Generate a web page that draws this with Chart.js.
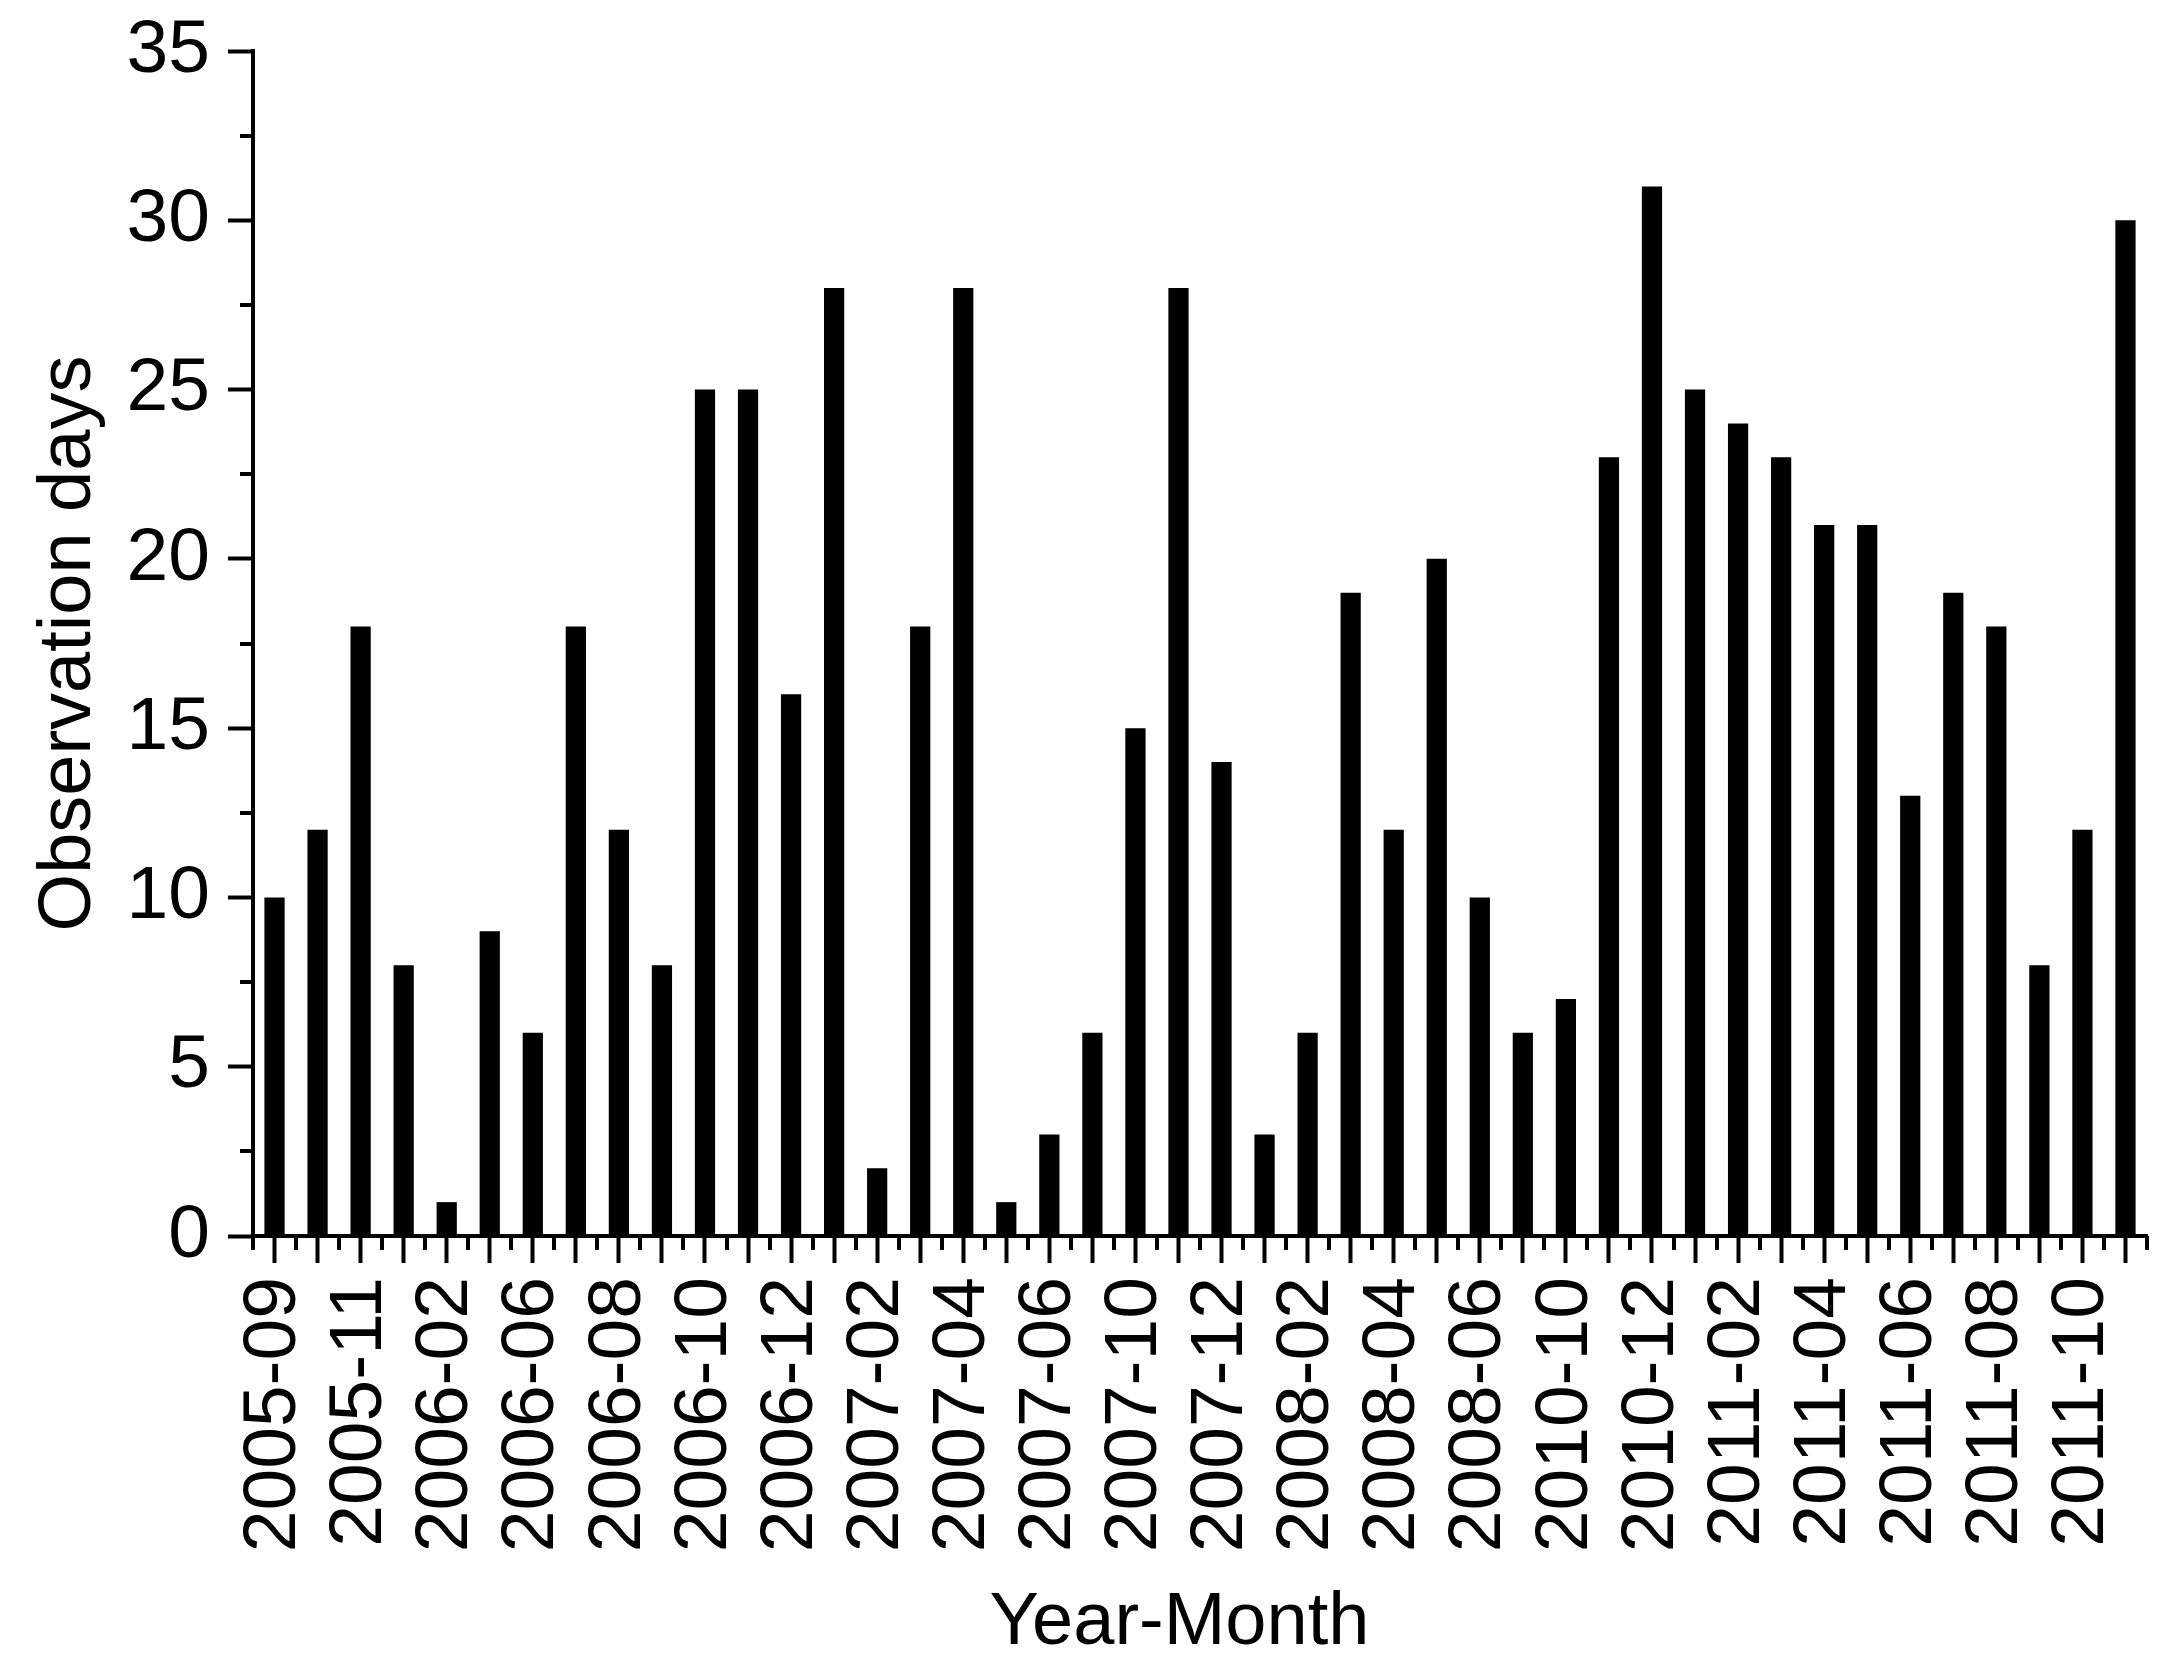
<!DOCTYPE html>
<html>
<head>
<meta charset="utf-8">
<script src="https://cdn.jsdelivr.net/npm/chart.js@4.4.1/dist/chart.umd.min.js"></script>
<style>
  html, body { margin: 0; padding: 0; background: #ffffff; }
  #wrap { width: 2175px; height: 1673px; }
</style>
</head>
<body>
<div id="wrap"><canvas id="c" width="2175" height="1673"></canvas></div>
<script>
// Categories (Year-Month). Only every other label is printed on the axis.
const categories = [
  "2005-09","2005-10","2005-11","2005-12","2006-02","2006-04","2006-06","2006-07",
  "2006-08","2006-09","2006-10","2006-11","2006-12","2007-01","2007-02","2007-03",
  "2007-04","2007-05","2007-06","2007-09","2007-10","2007-11","2007-12","2008-01",
  "2008-02","2008-03","2008-04","2008-05","2008-06","2008-07","2010-10","2010-11",
  "2010-12","2011-01","2011-02","2011-03","2011-04","2011-05","2011-06","2011-07",
  "2011-08","2011-09","2011-10","2011-11"
];
// Observation days per month
const observationDays = [
  10, 12, 18, 8, 1, 9, 6, 18,
  12, 8, 25, 25, 16, 28, 2, 18,
  28, 1, 3, 6, 15, 28, 14, 3,
  6, 19, 12, 20, 10, 6, 7, 23,
  31, 25, 24, 23, 21, 21, 13, 19,
  18, 8, 12, 30
];
// Y axis ticks
const yMin = 0, yMax = 35, yStep = 5;
const yMinorValues = [2.5, 7.5, 12.5, 17.5, 22.5, 27.5, 32.5];

const FONT = "'Liberation Sans', Arial, Helvetica, sans-serif";

const minorTicks = {
  id: 'minorTicks',
  afterDraw(chart) {
    const ctx = chart.ctx;
    const xs = chart.scales.x, ys = chart.scales.y;
    ctx.save();
    ctx.strokeStyle = '#000';
    ctx.lineWidth = 4;
    ctx.lineCap = 'butt';
    // x minor ticks at category boundaries
    const yb = xs.top;
    for (let i = 0; i <= categories.length; i++) {
      const px = Math.round(xs.getPixelForValue(i - 0.5));
      ctx.beginPath();
      ctx.moveTo(px, yb);
      ctx.lineTo(px, yb + 14);
      ctx.stroke();
    }
    // y minor ticks
    const xl = ys.right;
    yMinorValues.forEach(v => {
      const py = Math.round(ys.getPixelForValue(v));
      ctx.beginPath();
      ctx.moveTo(xl, py);
      ctx.lineTo(xl - 13, py);
      ctx.stroke();
    });
    ctx.restore();
  }
};

new Chart(document.getElementById('c'), {
  type: 'bar',
  data: {
    labels: categories,
    datasets: [{
      data: observationDays,
      backgroundColor: '#000000',
      borderWidth: 0,
      barPercentage: 0.47,
      categoryPercentage: 1.0
    }]
  },
  options: {
    responsive: false,
    animation: false,
    devicePixelRatio: 1,
    layout: { padding: { left: 0, right: 28, top: 51, bottom: 0 } },
    plugins: {
      legend: { display: false },
      tooltip: { enabled: false },
      title: { display: false }
    },
    scales: {
      x: {
        type: 'category',
        offset: true,
        grid: {
          offset: false,
          drawOnChartArea: false,
          drawTicks: true,
          tickLength: 27,
          tickWidth: 4,
          tickColor: '#000'
        },
        border: { display: true, color: '#000', width: 4 },
        ticks: {
          autoSkip: false,
          minRotation: 90,
          maxRotation: 90,
          padding: 14,
          color: '#000',
          font: { family: FONT, size: 75 },
          callback: function(value, index) {
            return index % 2 === 0 ? categories[index] : '';
          }
        },
        title: {
          display: true,
          text: 'Year-Month  ',
          color: '#000',
          font: { family: FONT, size: 74 },
          padding: { top: 0, bottom: 5 }
        },
        afterFit: function(scale) {
          scale.height = 1673 - 1236;
          scale.paddingLeft = 0;
          scale.paddingRight = 0;
        }
      },
      y: {
        min: yMin,
        max: yMax,
        grid: {
          drawOnChartArea: false,
          drawTicks: true,
          tickLength: 25,
          tickWidth: 4,
          tickColor: '#000'
        },
        border: { display: true, color: '#000', width: 4 },
        ticks: {
          stepSize: yStep,
          padding: 18,
          color: '#000',
          font: { family: FONT, size: 75 }
        },
        title: {
          display: true,
          text: 'Observation days',
          color: '#000',
          font: { family: FONT, size: 74 },
          padding: { top: 25, bottom: 0 }
        },
        afterFit: function(scale) {
          scale.width = 253;
          scale.paddingTop = 0;
          scale.paddingBottom = 0;
        }
      }
    }
  },
  plugins: [minorTicks]
});
</script>
</body>
</html>
